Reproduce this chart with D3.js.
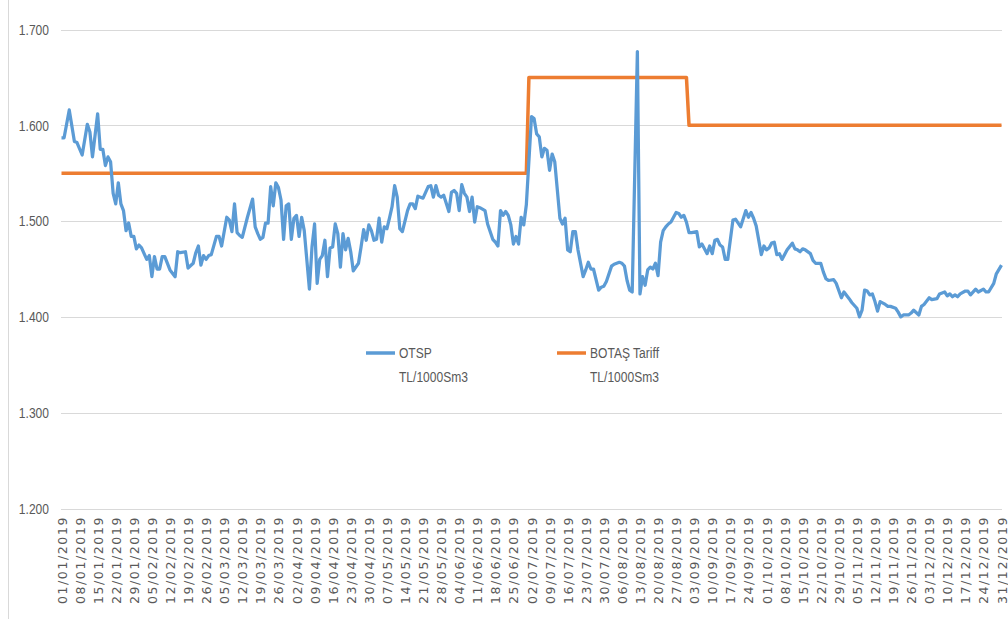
<!DOCTYPE html>
<meta charset="utf-8">
<script src="https://d3js.org/d3.v7.min.js"></script>
<style>
    body { margin: 0; background: #fff; }
    .ylab, .leg { font-family: "Liberation Sans", Arial, sans-serif; fill: #595959; }
    .xlab { font-family: "DejaVu Sans", Verdana, sans-serif; fill: #595959; }
</style>
<div id="my_dataviz"></div>
<script>
    // OTSP daily price (TL/1000Sm3), day = days after 01/01/2019
    var otspDay = [0, 1, 3, 5, 6, 8, 10, 11, 12, 14, 15, 16, 17, 18, 19, 20, 21, 22, 23, 24,
        25, 26, 27, 28, 29, 30, 31, 33, 34, 35, 36, 37, 38, 39, 40, 42, 44, 45, 46, 48,
        49, 51, 52, 53, 54, 55, 56, 57, 58, 60, 61, 62, 64, 65, 66, 67, 68, 69, 70, 72,
        74, 75, 76, 77, 78, 79, 80, 81, 82, 83, 84, 85, 86, 87, 88, 89, 90, 91, 92, 93,
        94, 96, 97, 98, 99, 100, 101, 102, 103, 104, 105, 106, 107, 108, 109, 110, 111, 112, 113, 115,
        116, 117, 118, 119, 120, 121, 122, 123, 124, 125, 126, 127, 128, 129, 130, 131, 132, 134, 135, 136,
        137, 138, 139, 140, 141, 142, 143, 144, 145, 146, 147, 148, 150, 151, 152, 153, 154, 155, 156, 157,
        158, 159, 160, 161, 162, 164, 165, 167, 168, 169, 170, 171, 172, 173, 174, 175, 176, 177, 178, 179,
        180, 182, 183, 184, 185, 186, 187, 188, 189, 190, 191, 193, 194, 195, 196, 197, 198, 199, 200, 202,
        203, 204, 205, 206, 208, 209, 210, 211, 213, 214, 216, 217, 218, 219, 220, 221, 223, 224, 225, 226,
        227, 228, 229, 230, 231, 232, 233, 234, 235, 236, 238, 239, 240, 241, 242, 243, 244, 246, 247, 248,
        250, 251, 252, 253, 254, 255, 256, 257, 258, 260, 261, 263, 265, 266, 267, 268, 269, 271, 272, 273,
        274, 275, 276, 277, 278, 279, 281, 283, 284, 285, 286, 287, 288, 290, 291, 292, 294, 295, 296, 297,
        299, 300, 302, 303, 305, 306, 308, 309, 310, 311, 312, 313, 314, 315, 316, 317, 319, 320, 321, 323,
        324, 325, 326, 328, 329, 330, 332, 333, 334, 336, 337, 339, 340, 342, 343, 344, 345, 346, 347, 348,
        350, 351, 352, 354, 355, 357, 358, 359, 361, 362, 364];
    var otspValue = [1587, 1587, 1616, 1583, 1582, 1569, 1601, 1593, 1567, 1612, 1575, 1575, 1558, 1567, 1562, 1529, 1518, 1540, 1518, 1511,
        1490, 1498, 1484, 1484, 1471, 1475, 1472, 1460, 1464, 1442, 1463, 1450, 1450, 1463, 1463, 1449, 1442, 1468, 1467, 1468,
        1451, 1456, 1467, 1474, 1454, 1464, 1460, 1464, 1465, 1484, 1484, 1474, 1504, 1501, 1489, 1518, 1488, 1485, 1483, 1504,
        1523, 1494, 1487, 1481, 1483, 1498, 1498, 1536, 1516, 1540, 1535, 1522, 1481, 1516, 1518, 1481, 1503, 1506, 1484, 1504,
        1490, 1429, 1473, 1497, 1435, 1460, 1464, 1480, 1442, 1472, 1473, 1497, 1487, 1452, 1487, 1470, 1482, 1468, 1448, 1456,
        1473, 1491, 1480, 1496, 1490, 1480, 1481, 1503, 1478, 1494, 1492, 1503, 1515, 1537, 1525, 1492, 1489, 1511, 1518, 1518,
        1513, 1526, 1525, 1524, 1530, 1536, 1537, 1525, 1537, 1527, 1525, 1527, 1510, 1530, 1532, 1529, 1511, 1538, 1529, 1525,
        1510, 1525, 1499, 1515, 1514, 1511, 1497, 1481, 1478, 1474, 1511, 1506, 1510, 1506, 1496, 1476, 1484, 1476, 1504, 1496,
        1517, 1609, 1607, 1591, 1588, 1567, 1576, 1574, 1553, 1570, 1562, 1503, 1497, 1503, 1470, 1468, 1489, 1489, 1470, 1442,
        1449, 1457, 1450, 1450, 1428, 1431, 1432, 1437, 1453, 1455, 1457, 1456, 1453, 1438, 1428, 1426, 1677, 1424, 1442, 1433,
        1449, 1452, 1450, 1456, 1443, 1478, 1490, 1494, 1497, 1499, 1509, 1508, 1504, 1506, 1499, 1488, 1488, 1489, 1473, 1476,
        1466, 1474, 1466, 1480, 1481, 1475, 1473, 1460, 1460, 1501, 1502, 1494, 1511, 1504, 1509, 1503, 1495, 1465, 1474, 1470,
        1472, 1477, 1478, 1465, 1466, 1460, 1470, 1477, 1471, 1470, 1468, 1471, 1470, 1466, 1459, 1456, 1456, 1447, 1440, 1438,
        1439, 1435, 1420, 1426, 1419, 1415, 1409, 1400, 1407, 1428, 1427, 1423, 1424, 1416, 1406, 1416, 1413, 1411, 1411, 1409,
        1405, 1400, 1402, 1402, 1404, 1407, 1402, 1411, 1413, 1420, 1418, 1419, 1424, 1426, 1422, 1424, 1421, 1423, 1421, 1424,
        1427, 1427, 1423, 1429, 1426, 1429, 1426, 1426, 1435, 1445, 1454];

    // BOTAŞ tariff steps
    var tariffDay = [0, 180, 181, 242, 243, 364];
    var tariffValue = [1550, 1550, 1650, 1650, 1600, 1600];

    var yTicks = [1200, 1300, 1400, 1500, 1600, 1700];
    var seriesNames = [["OTSP", "TL/1000Sm3"], ["BOTAŞ Tariff", "TL/1000Sm3"]];
    var seriesColors = ["#5B9BD5", "#ED7D31"];

    var W = 1008, H = 619;
    var start = new Date(2019, 0, 1), end = new Date(2019, 11, 31);
    var dayToDate = function (d) { return d3.timeDay.offset(start, d); };
    var narrow = 0.82; // squeeze text to look like a condensed font

    var svg = d3.select("#my_dataviz")
        .append("svg")
        .attr("width", W)
        .attr("height", H);

    var x = d3.scaleTime().domain([start, end]).range([61.5, 1001.5]);
    var y = d3.scaleLinear().domain([1200, 1700]).range([508.5, 29.5]);

    // Turkish style number format: 1.700
    var trFormat = d3.formatLocale({ decimal: ",", thousands: ".", grouping: [3], currency: ["", ""] }).format(",.0f");

    // chart area left border
    svg.append("line")
        .attr("x1", 8.5).attr("x2", 8.5)
        .attr("y1", 0).attr("y2", H)
        .attr("stroke", "#D9D9D9");

    // gridlines
    svg.append("g")
        .selectAll("line")
        .data(yTicks)
        .enter()
        .append("line")
        .attr("x1", 61).attr("x2", 1002)
        .attr("y1", function (d) { return Math.round(y(d)) + 0.5; })
        .attr("y2", function (d) { return Math.round(y(d)) + 0.5; })
        .attr("stroke", "#D9D9D9");

    // Y axis
    var yAxis = svg.append("g")
        .attr("transform", "translate(49,0)")
        .call(d3.axisLeft(y).tickValues(yTicks).tickFormat(trFormat).tickSize(0).tickPadding(0));
    yAxis.select(".domain").remove();
    yAxis.selectAll("text")
        .attr("class", "ylab")
        .attr("x", 0)
        .attr("transform", "scale(" + narrow + ",1)")
        .style("font-size", "14.7px");

    // X axis (weekly, every Tuesday)
    var xAxis = svg.append("g")
        .attr("transform", "translate(0,516)")
        .call(d3.axisBottom(x)
            .tickValues(d3.timeTuesday.range(start, d3.timeDay.offset(end, 1)))
            .tickFormat(d3.timeFormat("%d/%m/%Y"))
            .tickSize(0));
    xAxis.select(".domain").remove();
    xAxis.selectAll("text")
        .attr("class", "xlab")
        .style("font-size", "12.5px")
        .style("letter-spacing", "1.6px")
        .attr("text-anchor", "end")
        .attr("transform", "rotate(-90)")
        .attr("x", 0)
        .attr("y", 0)
        .attr("dx", 0)
        .attr("dy", "0.36em");

    // lines
    var line = d3.line()
        .x(function (d) { return x(dayToDate(d[0])); })
        .y(function (d) { return y(d[1]); });

    svg.append("path")
        .datum(d3.zip(tariffDay, tariffValue))
        .attr("fill", "none")
        .attr("stroke", seriesColors[1])
        .attr("stroke-width", 3.5)
        .attr("stroke-linejoin", "round")
        .attr("d", line);

    svg.append("path")
        .datum(d3.zip(otspDay, otspValue))
        .attr("fill", "none")
        .attr("stroke", seriesColors[0])
        .attr("stroke-width", 3.25)
        .attr("stroke-linejoin", "round")
        .attr("d", line);

    // legend
    var legX = [366, 557];
    var leg = svg.selectAll("g.legitem")
        .data(seriesNames)
        .enter()
        .append("g")
        .attr("class", "legitem")
        .attr("transform", function (d, i) { return "translate(" + legX[i] + ",353)"; });
    leg.append("line")
        .attr("x1", 0).attr("x2", 29)
        .attr("y1", 0).attr("y2", 0)
        .attr("stroke", function (d, i) { return seriesColors[i]; })
        .attr("stroke-width", 3.5);
    leg.append("text")
        .attr("class", "leg")
        .attr("transform", "translate(33,5) scale(" + narrow + ",1)")
        .style("font-size", "14.7px")
        .text(function (d) { return d[0]; });
    leg.append("text")
        .attr("class", "leg")
        .attr("transform", "translate(33,29) scale(" + narrow + ",1)")
        .style("font-size", "14.7px")
        .text(function (d) { return d[1]; });
</script>
